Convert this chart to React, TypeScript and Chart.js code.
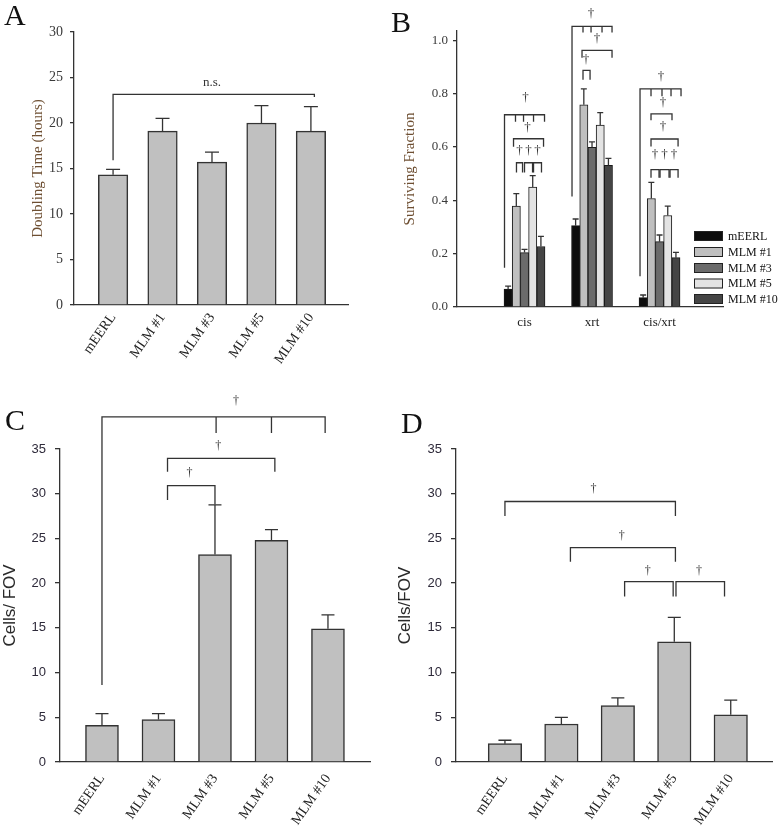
import React, { useEffect, useRef } from 'react';
import { Chart, registerables } from 'chart.js';
Chart.register(...registerables);

const SERIF = "'Liberation Serif', 'Times New Roman', serif";
const SANS = "'Liberation Sans', Arial, sans-serif";
const INK = '#333333';
const BROWN = '#6e4f32';

// ---------- Panel A: doubling time ----------
const cellLines = ['mEERL', 'MLM #1', 'MLM #3', 'MLM #5', 'MLM #10'];
const doublingTime = [14.3, 19.1, 15.7, 20.0, 19.1];
const doublingErr = [0.6, 1.4, 1.1, 1.9, 2.7];
const doublingTicks = [0, 5, 10, 15, 20, 25, 30];

// ---------- Panel B: surviving fraction ----------
const treatments = ['cis', 'xrt', 'cis/xrt'];
const sfMEERL = [0.067, 0.305, 0.035];
const sfMEERLErr = [0.011, 0.025, 0.01];
const sfMLM1 = [0.378, 0.758, 0.407];
const sfMLM1Err = [0.047, 0.06, 0.06];
const sfMLM3 = [0.204, 0.599, 0.245];
const sfMLM3Err = [0.012, 0.02, 0.025];
const sfMLM5 = [0.45, 0.682, 0.343];
const sfMLM5Err = [0.043, 0.047, 0.035];
const sfMLM10 = [0.227, 0.531, 0.185];
const sfMLM10Err = [0.038, 0.026, 0.02];
const sfTicks = [0, 0.2, 0.4, 0.6, 0.8, 1.0];
const sfColors = ['#0d0d0d', '#bfbfbf', '#6b6b6b', '#e3e3e3', '#454545'];

// ---------- Panels C & D: cells per FOV ----------
const invasionC = [4.1, 4.75, 23.2, 24.8, 14.9];
const invasionCErr = [1.3, 0.67, 5.55, 1.18, 1.55];
const invasionD = [2.05, 4.25, 6.3, 13.45, 5.27];
const invasionDErr = [0.38, 0.75, 0.88, 2.72, 1.64];
const cellTicks = [0, 5, 10, 15, 20, 25, 30, 35];

// ---------- significance brackets ----------
type Bracket = { g?: number; x1: number; x2: number; y: number; y1: number; y2: number; ticks?: number[]; tickY?: number };
type Note = { g?: number; x: number; y: number; text: string };

const bracketsA: Bracket[] = [{ x1: 0, x2: 4.07, y: 23.15, y1: 15.9, y2: 22.85 }];
const notesA: Note[] = [{ x: 2.0, y: 24.4, text: 'n.s.' }];

const bracketsB: Bracket[] = [
  { g: 1, x1: -0.44, x2: 4.44, y: 0.721, y1: 0.147, y2: 0.695, ticks: [0.9, 1.88, 3.1], tickY: 0.695 },
  { g: 1, x1: 0.66, x2: 4.32, y: 0.631, y1: 0.601, y2: 0.601 },
  { g: 1, x1: 1.02, x2: 1.76, y: 0.541, y1: 0.504, y2: 0.504 },
  { g: 1, x1: 2.0, x2: 2.98, y: 0.541, y1: 0.504, y2: 0.504 },
  { g: 1, x1: 3.1, x2: 4.07, y: 0.541, y1: 0.504, y2: 0.504 },
  { g: 2, x1: -0.44, x2: 4.44, y: 1.052, y1: 0.414, y2: 1.029, ticks: [0.9, 1.88, 3.22], tickY: 1.029 },
  { g: 2, x1: 0.78, x2: 4.44, y: 0.962, y1: 0.935, y2: 0.935 },
  { g: 2, x1: 0.9, x2: 1.76, y: 0.887, y1: 0.852, y2: 0.852 },
  { g: 3, x1: -0.38, x2: 4.62, y: 0.818, y1: 0.115, y2: 0.79, ticks: [0.96, 2.3, 3.4], tickY: 0.79 },
  { g: 3, x1: 0.96, x2: 3.52, y: 0.724, y1: 0.7, y2: 0.7 },
  { g: 3, x1: 0.96, x2: 4.26, y: 0.63, y1: 0.602, y2: 0.602 },
  { g: 3, x1: 0.96, x2: 1.94, y: 0.515, y1: 0.485, y2: 0.485 },
  { g: 3, x1: 2.06, x2: 3.16, y: 0.515, y1: 0.485, y2: 0.485 },
  { g: 3, x1: 3.28, x2: 4.26, y: 0.515, y1: 0.485, y2: 0.485 },
];
const notesB: Note[] = [
  { g: 1, x: 2.12, y: 0.785, text: '†' },
  { g: 1, x: 2.37, y: 0.673, text: '†' },
  { g: 1, x: 1.39, y: 0.586, text: '†' },
  { g: 1, x: 2.49, y: 0.586, text: '†' },
  { g: 1, x: 3.58, y: 0.586, text: '†' },
  { g: 2, x: 1.88, y: 1.1, text: '†' },
  { g: 2, x: 2.6, y: 1.006, text: '†' },
  { g: 2, x: 1.27, y: 0.928, text: '†' },
  { g: 3, x: 2.18, y: 0.865, text: '†' },
  { g: 3, x: 2.43, y: 0.766, text: '†' },
  { g: 3, x: 2.43, y: 0.677, text: '†' },
  { g: 3, x: 1.45, y: 0.571, text: '†' },
  { g: 3, x: 2.61, y: 0.571, text: '†' },
  { g: 3, x: 3.77, y: 0.571, text: '†' },
];

const bracketsC: Bracket[] = [
  { x1: 0, x2: 3.95, y: 38.6, y1: 8.6, y2: 36.8, ticks: [2.02, 3.0], tickY: 36.8 },
  { x1: 1.16, x2: 3.06, y: 33.95, y1: 32.46, y2: 32.46 },
  { x1: 1.16, x2: 2.0, y: 30.9, y1: 29.3, y2: 28.8 },
];
const notesC: Note[] = [
  { x: 2.37, y: 40.4, text: '†' },
  { x: 2.06, y: 35.3, text: '†' },
  { x: 1.55, y: 32.3, text: '†' },
];

const bracketsD: Bracket[] = [
  { x1: 0, x2: 3.02, y: 29.13, y1: 27.5, y2: 27.5 },
  { x1: 1.16, x2: 3.02, y: 23.98, y1: 22.4, y2: 22.4 },
  { x1: 2.12, x2: 2.98, y: 20.17, y1: 18.5, y2: 18.5 },
  { x1: 3.03, x2: 3.89, y: 20.17, y1: 18.5, y2: 18.5 },
];
const notesD: Note[] = [
  { x: 1.57, y: 30.6, text: '†' },
  { x: 2.07, y: 25.3, text: '†' },
  { x: 2.53, y: 21.4, text: '†' },
  { x: 3.44, y: 21.4, text: '†' },
];

type Deco = {
  errors: number[][];
  capW: number;
  brackets: Bracket[];
  notes: Note[];
  barW?: number;
  noteFont: string;
  legend?: boolean;
};

function makeDeco(p: Deco) {
  return {
    id: 'deco',
    afterDatasetsDraw(chart: any) {
      const ctx = chart.ctx;
      const ys = chart.scales.y;
      ctx.save();
      ctx.strokeStyle = INK;
      ctx.lineWidth = 1.3;
      chart.data.datasets.forEach((ds: any, di: number) => {
        const meta = chart.getDatasetMeta(di);
        meta.data.forEach((el: any, i: number) => {
          const v = ds.data[i].y;
          const e = p.errors[di][i];
          const top = ys.getPixelForValue(v + e);
          ctx.beginPath();
          ctx.moveTo(el.x, el.y);
          ctx.lineTo(el.x, top);
          ctx.moveTo(el.x - p.capW / 2, top);
          ctx.lineTo(el.x + p.capW / 2, top);
          ctx.stroke();
        });
      });
      ctx.restore();
    },
    afterDraw(chart: any) {
      const ctx = chart.ctx;
      const xs = chart.scales.x;
      const ys = chart.scales.y;
      const px = (x: number, g?: number) =>
        g === undefined ? xs.getPixelForValue(x) : xs.getPixelForValue(g) + (x - 2) * (p.barW || 0);
      ctx.save();
      ctx.strokeStyle = INK;
      ctx.lineWidth = 1.3;
      p.brackets.forEach((b) => {
        const x1 = px(b.x1, b.g);
        const x2 = px(b.x2, b.g);
        const y = ys.getPixelForValue(b.y);
        ctx.beginPath();
        ctx.moveTo(x1, ys.getPixelForValue(b.y1));
        ctx.lineTo(x1, y);
        ctx.lineTo(x2, y);
        ctx.lineTo(x2, ys.getPixelForValue(b.y2));
        (b.ticks || []).forEach((t) => {
          const tx = px(t, b.g);
          ctx.moveTo(tx, y);
          ctx.lineTo(tx, ys.getPixelForValue(b.tickY as number));
        });
        ctx.stroke();
      });
      ctx.fillStyle = INK;
      ctx.font = p.noteFont;
      ctx.textAlign = 'center';
      ctx.textBaseline = 'middle';
      p.notes.forEach((n) => {
        ctx.fillText(n.text, px(n.x, n.g), ys.getPixelForValue(n.y));
      });
      if (p.legend) {
        const rowTops = [231, 247, 263, 278.5, 294];
        ctx.font = `12px ${SERIF}`;
        ctx.textAlign = 'left';
        chart.data.datasets.forEach((ds: any, i: number) => {
          const t = rowTops[i];
          ctx.fillStyle = ds.backgroundColor;
          ctx.fillRect(304, t, 29, 10);
          ctx.lineWidth = 1;
          ctx.strokeStyle = '#222';
          ctx.strokeRect(304.5, t + 0.5, 28, 9);
          ctx.fillStyle = '#111';
          ctx.fillText(ds.label, 338, t + 5.5);
        });
      }
      ctx.restore();
    },
  };
}

function singleBarConfig(o: {
  values: number[];
  errors: number[];
  barW: number;
  capW: number;
  xMin: number;
  xMax: number;
  yMax: number;
  yTicks: number[];
  pad: { top: number; right: number };
  yWidth: number;
  xHeight: number;
  title: string;
  titleColor: string;
  titleFont: any;
  titlePad: number;
  tickFont: any;
  tickColor: string;
  tickLen: number;
  tickPad: number;
  xPad: number;
  brackets: Bracket[];
  notes: Note[];
  noteFont: string;
}) {
  return {
    type: 'bar',
    data: {
      datasets: [
        {
          data: cellLines.map((_, i) => ({ x: i, y: o.values[i] })),
          backgroundColor: '#c0c0c0',
          borderColor: INK,
          borderWidth: 1.5,
          barThickness: o.barW,
        },
      ],
    },
    options: {
      animation: false,
      responsive: false,
      devicePixelRatio: 1,
      layout: { padding: { left: 0, top: o.pad.top, right: o.pad.right, bottom: 0 } },
      plugins: { legend: { display: false }, tooltip: { enabled: false } },
      scales: {
        x: {
          type: 'linear',
          offset: false,
          min: o.xMin,
          max: o.xMax,
          afterBuildTicks: (s: any) => {
            s.ticks = cellLines.map((_, i) => ({ value: i }));
          },
          afterFit: (s: any) => {
            s.height = o.xHeight;
          },
          grid: { display: false, drawTicks: false },
          border: { display: true, color: INK, width: 1.3 },
          ticks: {
            autoSkip: false,
            minRotation: 55,
            maxRotation: 55,
            padding: o.xPad,
            color: '#222',
            font: { family: SERIF, size: 14 },
            callback: (v: number) => cellLines[v] ?? '',
          },
        },
        y: {
          min: 0,
          max: o.yMax,
          afterBuildTicks: (s: any) => {
            s.ticks = o.yTicks.map((v) => ({ value: v }));
          },
          afterFit: (s: any) => {
            s.width = o.yWidth;
          },
          grid: { drawOnChartArea: false, drawTicks: true, tickLength: o.tickLen, color: INK, lineWidth: 1.3 },
          border: { display: true, color: INK, width: 1.3 },
          ticks: { padding: o.tickPad, color: o.tickColor, font: o.tickFont },
          title: {
            display: true,
            text: o.title,
            color: o.titleColor,
            font: o.titleFont,
            padding: { top: o.titlePad, bottom: 0 },
          },
        },
      },
    },
    plugins: [
      makeDeco({ errors: [o.errors], capW: o.capW, brackets: o.brackets, notes: o.notes, noteFont: o.noteFont }),
    ],
  };
}

const configA = () =>
  singleBarConfig({
    values: doublingTime,
    errors: doublingErr,
    barW: 29.5,
    capW: 14,
    xMin: -0.79,
    xMax: 4.75,
    yMax: 30,
    yTicks: doublingTicks,
    pad: { top: 32, right: 42 },
    yWidth: 74,
    xHeight: 95,
    title: 'Doubling Time (hours)',
    titleColor: BROWN,
    titleFont: { family: SERIF, size: 15 },
    titlePad: 29,
    tickFont: { family: SERIF, size: 14 },
    tickColor: '#3a3a3a',
    tickLen: 4,
    tickPad: 7,
    xPad: 5,
    brackets: bracketsA,
    notes: notesA,
    noteFont: `13px ${SERIF}`,
  });

const configC = () =>
  singleBarConfig({
    values: invasionC,
    errors: invasionCErr,
    barW: 33,
    capW: 13,
    xMin: -0.743,
    xMax: 4.744,
    yMax: 35,
    yTicks: cellTicks,
    pad: { top: 69, right: 20 },
    yWidth: 60,
    xHeight: 66,
    title: 'Cells/ FOV',
    titleColor: '#2a2a2a',
    titleFont: { family: SANS, size: 17 },
    titlePad: 0,
    tickFont: { family: SANS, size: 13 },
    tickColor: '#2e2a3a',
    tickLen: 5,
    tickPad: 9,
    xPad: 9,
    brackets: bracketsC,
    notes: notesC,
    noteFont: `12px ${SERIF}`,
  });

const configD = () =>
  singleBarConfig({
    values: invasionD,
    errors: invasionDErr,
    barW: 33.5,
    capW: 13,
    xMin: -0.867,
    xMax: 4.731,
    yMax: 35,
    yTicks: cellTicks,
    pad: { top: 69, right: 9 },
    yWidth: 66,
    xHeight: 66,
    title: 'Cells/FOV',
    titleColor: '#2a2a2a',
    titleFont: { family: SANS, size: 17 },
    titlePad: 5,
    tickFont: { family: SANS, size: 13 },
    tickColor: '#2e2a3a',
    tickLen: 5,
    tickPad: 9,
    xPad: 9,
    brackets: bracketsD,
    notes: notesD,
    noteFont: `12px ${SERIF}`,
  });

const configB = () => {
  const series = [sfMEERL, sfMLM1, sfMLM3, sfMLM5, sfMLM10];
  const errs = [sfMEERLErr, sfMLM1Err, sfMLM3Err, sfMLM5Err, sfMLM10Err];
  const BAR = 8.2;
  return {
    type: 'bar',
    data: {
      datasets: series.map((s, k) => ({
        label: cellLines[k],
        data: treatments.map((_, i) => ({ x: i + 1, y: s[i] })),
        backgroundColor: sfColors[k],
        borderColor: '#1a1a1a',
        borderWidth: 1,
        barThickness: BAR,
      })),
    },
    options: {
      animation: false,
      responsive: false,
      devicePixelRatio: 1,
      layout: { padding: { left: 0, top: 31, right: 58, bottom: 0 } },
      plugins: { legend: { display: false }, tooltip: { enabled: false } },
      scales: {
        x: {
          type: 'linear',
          offset: false,
          min: 0,
          max: 3.94,
          afterBuildTicks: (s: any) => {
            s.ticks = treatments.map((_, i) => ({ value: i + 1 }));
          },
          afterFit: (s: any) => {
            s.height = 93;
          },
          grid: { display: false, drawTicks: false },
          border: { display: true, color: INK, width: 1.3 },
          ticks: {
            autoSkip: false,
            maxRotation: 0,
            minRotation: 0,
            padding: 8,
            color: '#222',
            font: { family: SERIF, size: 13 },
            callback: (v: number) => treatments[v - 1] ?? '',
          },
        },
        y: {
          min: 0,
          max: 1.035,
          afterBuildTicks: (s: any) => {
            s.ticks = sfTicks.map((v) => ({ value: v }));
          },
          afterFit: (s: any) => {
            s.width = 67;
          },
          grid: { drawOnChartArea: false, drawTicks: true, tickLength: 4, color: INK, lineWidth: 1.3 },
          border: { display: true, color: INK, width: 1.3 },
          ticks: {
            padding: 5,
            color: '#3a3a3a',
            font: { family: SERIF, size: 13 },
            callback: (v: number) => Number(v).toFixed(1),
          },
          title: {
            display: true,
            text: 'Surviving Fraction',
            color: BROWN,
            font: { family: SERIF, size: 15 },
            padding: { top: 11, bottom: 0 },
          },
        },
      },
    },
    plugins: [
      makeDeco({ errors: errs, capW: 6, brackets: bracketsB, notes: notesB, barW: BAR, noteFont: `13px ${SERIF}`, legend: true }),
    ],
  };
};

function Panel(props: { left: number; top: number; width: number; height: number; build: () => any }) {
  const ref = useRef<HTMLCanvasElement>(null);
  useEffect(() => {
    const chart = new Chart(ref.current as HTMLCanvasElement, props.build());
    return () => chart.destroy();
  }, []);
  return (
    <canvas
      ref={ref}
      width={props.width}
      height={props.height}
      style={{ position: 'absolute', left: props.left, top: props.top, width: props.width, height: props.height }}
    />
  );
}

const letterStyle = (left: number, top: number): React.CSSProperties => ({
  position: 'absolute',
  left,
  top,
  fontFamily: SERIF,
  fontSize: 30,
  lineHeight: '30px',
  color: '#111',
});

export default function App() {
  return (
    <div style={{ position: 'absolute', left: 0, top: 0, width: 781, height: 828, background: '#fff', overflow: 'hidden' }}>
      <Panel left={0} top={0} width={390} height={400} build={configA} />
      <Panel left={390} top={0} width={391} height={400} build={configB} />
      <Panel left={0} top={380} width={390} height={448} build={configC} />
      <Panel left={390} top={380} width={391} height={448} build={configD} />
      <div style={letterStyle(4, 0)}>A</div>
      <div style={letterStyle(391, 7)}>B</div>
      <div style={letterStyle(5, 405)}>C</div>
      <div style={letterStyle(401, 408)}>D</div>
    </div>
  );
}
